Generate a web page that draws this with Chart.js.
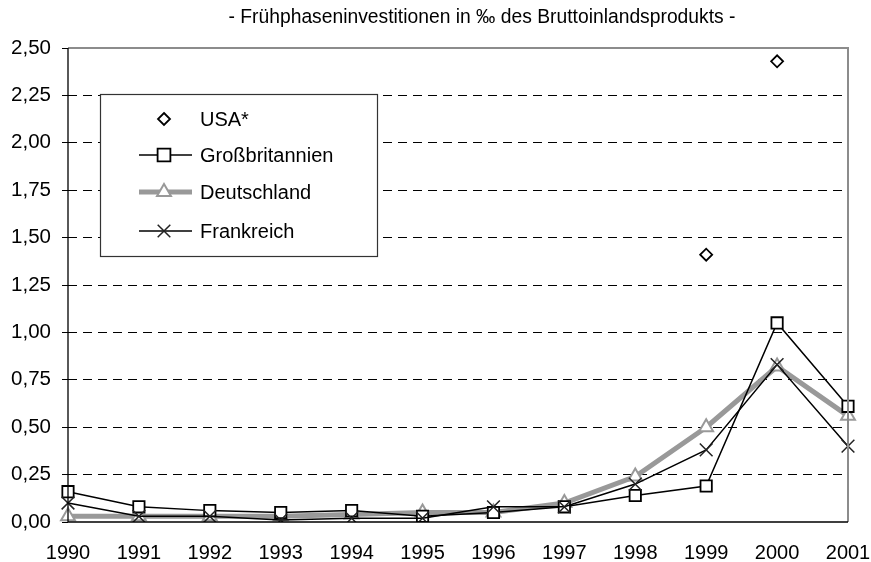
<!DOCTYPE html>
<html>
<head>
<meta charset="utf-8">
<script src="https://cdn.jsdelivr.net/npm/chart.js@4/dist/chart.umd.min.js"></script>
<style>
  html, body { margin:0; padding:0; background:#fff; }
  #wrap { width:871px; height:562px; }
</style>
</head>
<body>
<div id="wrap"><canvas id="chart" width="871" height="562"></canvas></div>
<script>
const years = ['1990','1991','1992','1993','1994','1995','1996','1997','1998','1999','2000','2001'];
const usa = [null,null,null,null,null,null,null,null,null,1.41,2.43,null];
const grossbritannien = [0.16,0.08,0.06,0.05,0.06,0.03,0.05,0.08,0.14,0.19,1.05,0.61];
const deutschland = [0.03,0.03,0.03,0.03,0.04,0.05,0.05,0.10,0.24,0.50,0.82,0.56];
const frankreich = [0.10,0.03,0.03,0.01,0.02,0.02,0.08,0.08,0.20,0.38,0.83,0.40];
const yTicks = [0,0.25,0.5,0.75,1,1.25,1.5,1.75,2,2.25,2.5];
const title = '- Frühphaseninvestitionen in \u2030 des Bruttoinlandsprodukts -';

const FONT = 'Liberation Sans, Arial, sans-serif';

function drawMarker(ctx, style, x, y, r) {
  ctx.beginPath();
  if (style === 'rectRot') {
    ctx.moveTo(x, y - r); ctx.lineTo(x + r, y); ctx.lineTo(x, y + r); ctx.lineTo(x - r, y); ctx.closePath();
    ctx.fill(); ctx.stroke();
  } else if (style === 'rect') {
    const s = r * 0.8;
    ctx.rect(x - s, y - s, 2 * s, 2 * s); ctx.fill(); ctx.stroke();
  } else if (style === 'triangle') {
    ctx.moveTo(x, y - r); ctx.lineTo(x + r * 0.87, y + r * 0.5); ctx.lineTo(x - r * 0.87, y + r * 0.5); ctx.closePath();
    ctx.fill(); ctx.stroke();
  } else if (style === 'crossRot') {
    const s = r * 0.7;
    ctx.moveTo(x - s, y - s); ctx.lineTo(x + s, y + s); ctx.moveTo(x + s, y - s); ctx.lineTo(x - s, y + s);
    ctx.stroke();
  }
}

// title, frame around plot area, legend box
const framePlugin = {
  id: 'frame',
  afterDatasetsDraw(chart) {
    const { ctx, chartArea: a } = chart;
    ctx.save();
    ctx.lineWidth = 2;
    ctx.strokeStyle = '#8c8c8c';
    ctx.beginPath();
    ctx.moveTo(a.left, a.top); ctx.lineTo(a.right, a.top); ctx.lineTo(a.right, a.bottom);
    ctx.stroke();
    ctx.strokeStyle = '#000';
    ctx.lineWidth = 1.3;
    ctx.beginPath();
    ctx.moveTo(a.left, a.top); ctx.lineTo(a.left, a.bottom); ctx.lineTo(a.right, a.bottom);
    ctx.stroke();
    ctx.restore();
  },
  afterDraw(chart) {
    const ctx = chart.ctx;
    ctx.save();
    ctx.fillStyle = '#000';
    ctx.font = '19.3px ' + FONT;
    ctx.textAlign = 'center';
    ctx.textBaseline = 'middle';
    ctx.fillText(title, 482, 18);

    const box = { x: 100, y: 94, w: 277, h: 162 };
    ctx.textAlign = 'left';
    ctx.fillStyle = '#fff';
    ctx.fillRect(box.x, box.y, box.w, box.h);
    ctx.strokeStyle = '#333';
    ctx.lineWidth = 1.2;
    ctx.strokeRect(box.x + 0.5, box.y + 0.5, box.w, box.h);
    const rows = [119, 155, 192, 231];
    ctx.font = '20px ' + FONT;
    chart.data.datasets.forEach((ds, i) => {
      const y = rows[i];
      const cx = 164;
      if (ds.showLine !== false) {
        ctx.strokeStyle = ds.borderColor;
        ctx.lineWidth = ds.borderWidth;
        ctx.beginPath(); ctx.moveTo(139, y); ctx.lineTo(192, y); ctx.stroke();
      }
      ctx.fillStyle = ds.pointBackgroundColor;
      ctx.strokeStyle = ds.pointBorderColor;
      ctx.lineWidth = ds.pointBorderWidth;
      drawMarker(ctx, ds.pointStyle, cx, y, ds.pointRadius);
      ctx.fillStyle = '#000';
      ctx.fillText(ds.label, 200, y + 1);
    });
    ctx.restore();
  }
};

new Chart(document.getElementById('chart').getContext('2d'), {
  type: 'line',
  data: {
    labels: years,
    datasets: [
      { label: 'USA*', data: usa, showLine: false, borderColor: '#000', borderWidth: 1.5,
        pointStyle: 'rectRot', pointRadius: 6, pointBorderWidth: 1.8,
        pointBackgroundColor: '#fff', pointBorderColor: '#000', order: 0 },
      { label: 'Großbritannien', data: grossbritannien, borderColor: '#000', borderWidth: 1.5,
        pointStyle: 'rect', pointRadius: 8, pointBorderWidth: 1.8,
        pointBackgroundColor: '#fff', pointBorderColor: '#000', order: 2 },
      { label: 'Deutschland', data: deutschland, borderColor: '#999999', borderWidth: 5,
        pointStyle: 'triangle', pointRadius: 8, pointBorderWidth: 2,
        pointBackgroundColor: '#fff', pointBorderColor: '#999999', order: 3 },
      { label: 'Frankreich', data: frankreich, borderColor: '#000', borderWidth: 1.5,
        pointStyle: 'crossRot', pointRadius: 9, pointBorderWidth: 1.5,
        pointBackgroundColor: '#000', pointBorderColor: '#222', order: 1 }
    ]
  },
  options: {
    responsive: false,
    animation: false,
    spanGaps: false,
    layout: { padding: { left: 0, right: 23, top: 48, bottom: 0 } },
    plugins: {
      legend: { display: false },
      tooltip: { enabled: false },
      title: { display: false }
    },
    scales: {
      x: {
        offset: false,
        grid: { display: false, drawTicks: false },
        border: { display: false },
        ticks: { color: '#000', font: { family: FONT, size: 20 }, padding: 19, maxRotation: 0, autoSkip: false },
        afterFit(s) { s.height = 40; s.paddingLeft = 0; s.paddingRight = 0; }
      },
      y: {
        min: 0, max: 2.5,
        afterBuildTicks(s) { s.ticks = yTicks.map(v => ({ value: v })); },
        grid: {
          color: c => (c.tick && (c.tick.value === 0 || c.tick.value === 2.5)) ? 'rgba(0,0,0,0)' : '#000',
          tickColor: '#000', tickLength: 6, lineWidth: 1
        },
        border: { display: false, dash: [9, 6] },
        ticks: {
          color: '#000', font: { family: FONT, size: 20.5 }, padding: 11,
          callback: v => Number(v).toFixed(2).replace('.', ',')
        },
        afterFit(s) { s.width = 68; s.paddingTop = 0; s.paddingBottom = 0; }
      }
    }
  },
  plugins: [framePlugin]
});
</script>
</body>
</html>
